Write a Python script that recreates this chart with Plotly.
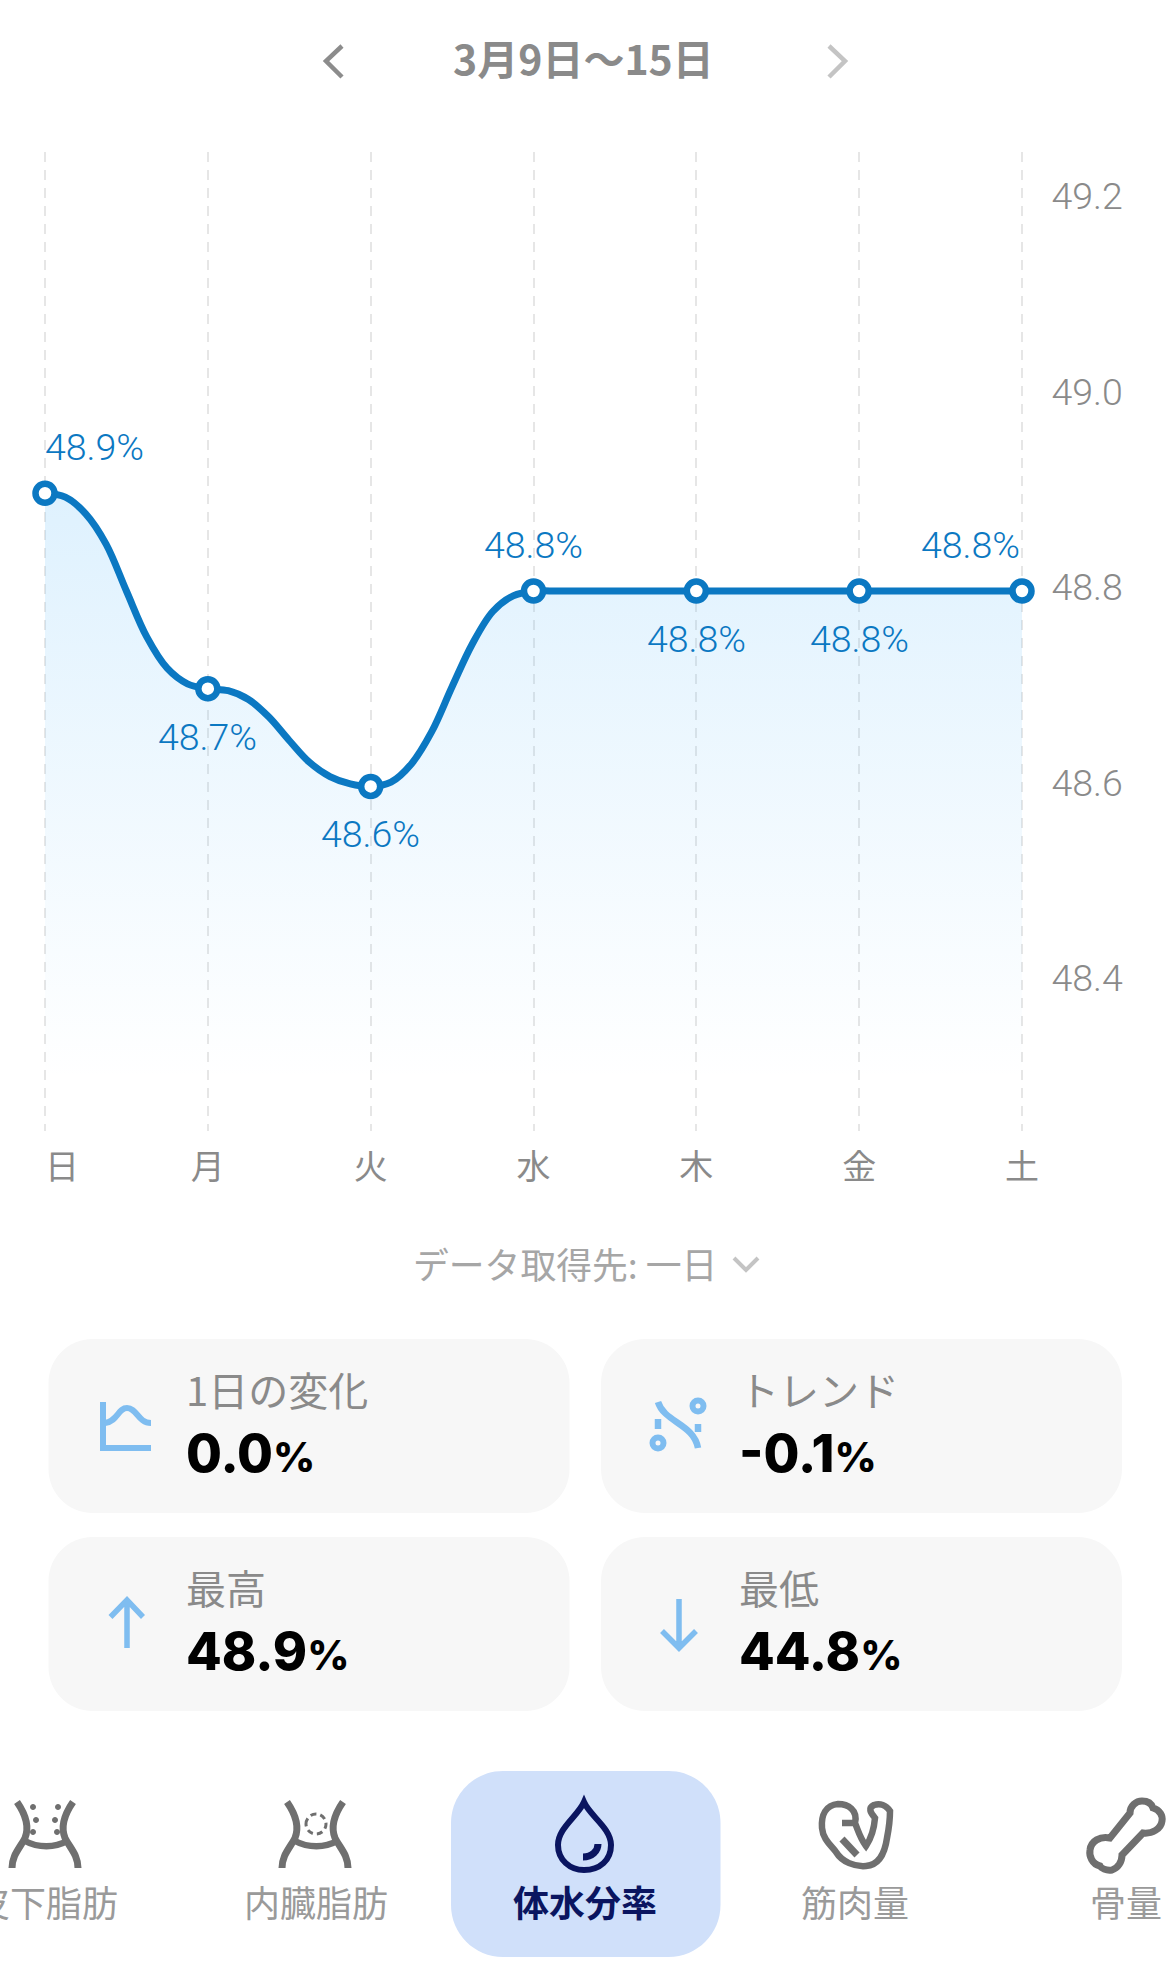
import plotly.graph_objects as go

# ---- chart data ----
days = ["日", "月", "火", "水", "木", "金", "土"]
day_pos = [0, 1, 2, 3, 4, 5, 6]
water_pct = [48.9, 48.7, 48.6, 48.8, 48.8, 48.8, 48.8]
day_tick_text = ["\u3000日", "月", "火", "水", "木", "金", "土"]
y_ticks = [49.2, 49.0, 48.8, 48.6, 48.4]
label_pos = ["above-right", "below", "below", "above", "below", "below", "above-left"]

# the drawn smooth line (weekday position, axis value)
line_pos = [0, .125, .25, .375, .5, .625, .75, .875, 1,
            1.125, 1.25, 1.375, 1.5, 1.625, 1.75, 1.875, 2,
            2.125, 2.25, 2.375, 2.5, 2.625, 2.75, 2.875, 3, 3.125, 4, 5, 6]
line_val = [48.900, 48.896, 48.879, 48.848, 48.800, 48.753, 48.721, 48.705, 48.700,
            48.698, 48.689, 48.671, 48.647, 48.6245, 48.610, 48.6025, 48.600,
            48.6044, 48.623, 48.656, 48.702, 48.746, 48.779, 48.795, 48.800, 48.800, 48.800, 48.800, 48.800]

title_text = "3月9日〜15日"
source_text = "データ取得先: 一日"
card_titles = ["1日の変化", "トレンド", "最高", "最低"]
card_values = ["0.0", "-0.1", "48.9", "44.8"]
tab_labels = ["皮下脂肪", "内臓脂肪", "体水分率", "筋肉量", "骨量"]

W, H = 1170, 1981
BLUE = "#0b78c2"
ICON = "#7fbdf0"
GREY = "#8a8a8a"
NAVY = "#0a1560"
CJK = "Noto Sans CJK JP"
NUM = "Roboto"

fig = go.Figure()

gradient = dict(type="vertical",
                colorscale=[[0, "rgba(100,190,250,0.21)"], [1, "rgba(100,190,250,0)"]],
                start=48.9, stop=48.3)
fig.add_trace(go.Scatter(
    x=line_pos, y=line_val, mode="lines", cliponaxis=False,
    line=dict(color=BLUE, width=7, shape="spline", smoothing=1),
    fill="tozeroy", fillgradient=gradient, hoverinfo="skip", showlegend=False))
fig.add_trace(go.Scatter(
    x=day_pos, y=water_pct, mode="markers", cliponaxis=False,
    marker=dict(size=19, color="#ffffff", line=dict(color=BLUE, width=6.5)),
    hoverinfo="skip", showlegend=False))
# empty trace that brings up the pixel overlay axes for the surrounding UI
fig.add_trace(go.Scatter(x=[], y=[], xaxis="x2", yaxis="y2", showlegend=False))

shapes, notes = [], []


def txt(x, y, s, size, color=GREY, family=CJK, anchor="center", weight=None):
    f = dict(size=size, color=color, family=family)
    if weight:
        f["weight"] = weight
    notes.append(dict(x=x, y=y, xref="x2", yref="y2", text=s, showarrow=False, xanchor=anchor,
                      yanchor="middle", font=f))


def stroke(path, color, width, fill=None, dash=None):
    shapes.append(dict(type="path", path=path, xref="x2", yref="y2", layer="below",
                       line=dict(color=color, width=width, **({"dash": dash} if dash else {})),
                       fillcolor=fill or "rgba(0,0,0,0)"))


def circle(cx, cy, r):
    k = 0.5523 * r
    return (f"M{cx-r},{cy} C{cx-r},{cy-k} {cx-k},{cy-r} {cx},{cy-r} C{cx+k},{cy-r} {cx+r},{cy-k} {cx+r},{cy} "
            f"C{cx+r},{cy+k} {cx+k},{cy+r} {cx},{cy+r} C{cx-k},{cy+r} {cx-r},{cy+k} {cx-r},{cy} Z")


def rrect(x0, y0, x1, y1, r):
    k = 0.4477 * r
    return (f"M{x0+r},{y0} L{x1-r},{y0} C{x1-k},{y0} {x1},{y0+k} {x1},{y0+r} L{x1},{y1-r} "
            f"C{x1},{y1-k} {x1-k},{y1} {x1-r},{y1} L{x0+r},{y1} C{x0+k},{y1} {x0},{y1-k} {x0},{y1-r} "
            f"L{x0},{y0+r} C{x0},{y0+k} {x0+k},{y0} {x0+r},{y0} Z")


# ---- header ----
txt(583, 56.5, f"<b>{title_text}</b>", 41)
stroke("M342,46 L326,61 L342,77", "#8c8c8c", 4.5)
stroke("M829,46 L845,61 L829,77", "#c4c4c4", 4.5)

# ---- data source row ----
txt(411, 1263, source_text, 35.8, color="#a6a6a6", anchor="left")
stroke("M734,1258 L746,1270 L758,1258", "#c4c4c4", 4)

# ---- cards ----
CARD = "#f7f7f7"
cards = [(48.5, 1339), (601, 1339), (48.5, 1537), (601, 1537)]
for (cx, cy), t, v in zip(cards, card_titles, card_values):
    shapes.append(dict(type="path", path=rrect(cx, cy, cx + 521, cy + 174, 44), xref="x2", yref="y2",
                       layer="below", line=dict(width=0), fillcolor=CARD))
    txt(cx + 135.5, cy + 49.5, t, 40, anchor="left")
    notes.append(dict(x=cx + 135.5, y=cy + 114, xref="x2", yref="y2", showarrow=False, xanchor="left",
                      yanchor="middle", text=f'{v}<span style="font-size:41px">%</span>',
                      font=dict(size=52, color="#000000", family="Inter", weight=800)))

stroke("M103,1402 L103,1448 L151,1448", ICON, 6)
stroke("M105,1423 C118,1421 118,1408 127,1408 C137,1408 138,1423 151,1423", ICON, 6)
stroke("M658,1402 C664,1422 694,1424 698,1448", ICON, 6.5)
stroke("M698,1424 L698,1432", ICON, 6.5)
stroke("M658,1419 L658,1429", ICON, 6.5)
stroke(circle(698, 1406, 5.5), ICON, 6, fill=CARD)
stroke(circle(658, 1443, 5.5), ICON, 6, fill=CARD)
stroke("M127,1648 L127,1600 M110.5,1617 L127,1600 L143,1617", ICON, 5.5)
stroke("M679,1599 L679,1648 M662,1631 L679,1648 L696,1631", ICON, 5.5)

# ---- bottom tabs ----
shapes.append(dict(type="path", path=rrect(451, 1771, 720.5, 1957, 52), xref="x2", yref="y2", layer="below",
                   line=dict(width=0), fillcolor="#d0e0fa"))
TAB = "#6f6f6f"
for off in (0, 270):
    stroke(f"M{17+off},1802 C{26+off},1815 {29+off},1828 {25+off},1838 C{20+off},1848 {12+off},1855 {12+off},1868",
           TAB, 7)
    stroke(f"M{73+off},1802 C{64+off},1815 {61+off},1828 {65+off},1838 C{70+off},1848 {78+off},1855 {78+off},1868",
           TAB, 7)
    stroke(f"M{25+off},1841 C{38+off},1848 {55+off},1848 {67+off},1841", TAB, 6.5)
for dx, dy in [(33, 1807), (58, 1807), (36, 1820), (55, 1820), (33, 1832), (57, 1832)]:
    shapes.append(dict(type="path", path=circle(dx, dy, 3), xref="x2", yref="y2", layer="below",
                       line=dict(width=0), fillcolor=TAB))
stroke(circle(316, 1824, 10), TAB, 3, dash="6px,4px")
stroke("M584,1802 C578,1816 558,1828 558,1845 C558,1860 570,1870 584,1870 C600,1870 611,1860 611,1845 "
       "C611,1828 590,1816 584,1802 Z", NAVY, 6)
stroke("M583,1857 C592,1857 598,1851 598,1844", NAVY, 7)
stroke("M842,1823 L855,1823 C858,1810 848,1804 838,1804 C826,1805 821,1815 822,1828 C823,1840 832,1846 836,1852 "
       "C842,1862 855,1867 866,1866 C880,1865 885,1852 887,1838 C889,1828 890,1818 890,1811 C886,1805 880,1803 874,1805 "
       "C868,1808 870,1812 875,1818 C874,1830 870,1840 866,1846 C860,1838 858,1830 855,1823", TAB, 6.5)
stroke("M842,1839 L857,1855", TAB, 7)
stroke("M1130,1813 C1130,1806 1136,1801 1142,1801 C1150,1801 1152,1805 1153,1808 C1160,1810 1163,1816 1162,1821 "
       "C1161,1829 1152,1834 1143,1833 L1122,1855 C1122,1862 1118,1868 1112,1870 C1106,1871 1101,1868 1100,1866 "
       "C1092,1864 1089,1856 1090,1850 C1091,1841 1100,1836 1110,1838 Z", TAB, 7)

txt(45.5, 1901, tab_labels[0], 36, color="#9a9a9a")
txt(315.5, 1901, tab_labels[1], 36, color="#9a9a9a")
txt(584.5, 1901, f"<b>{tab_labels[2]}</b>", 36, color=NAVY)
txt(855, 1901, tab_labels[3], 36, color="#9a9a9a")
txt(1126, 1901, tab_labels[4], 36, color="#9a9a9a")

# ---- value labels on the chart, anchored through its axes ----
for p, v, pos in zip(day_pos, water_pct, label_pos):
    up = pos.startswith("above")
    notes.append(dict(
        x=p, y=v, xref="x", yref="y", text=f"{v}%", showarrow=False,
        xanchor="left" if pos.endswith("right") else "right" if pos.endswith("left") else "center",
        xshift=-2 if pos.endswith("right") else 0,
        yanchor="middle", yshift=46 if up else -48,
        font=dict(size=37.5, color=BLUE, family=NUM, weight=300)))

fig.update_layout(
    width=W, height=H, margin=dict(l=0, r=0, t=0, b=0, autoexpand=False),
    paper_bgcolor="#ffffff", plot_bgcolor="rgba(0,0,0,0)", showlegend=False,
    shapes=shapes, annotations=notes,
    xaxis=dict(domain=[43.05 / W, 1023.95 / W], range=[-0.012, 6.012], tickmode="array",
               tickvals=day_pos, ticktext=day_tick_text,
               showgrid=True, gridcolor="#e6e6e6", gridwidth=2, griddash="10px,8px",
               zeroline=False, showline=False, ticks="outside", ticklen=6, tickcolor="rgba(0,0,0,0)",
               tickfont=dict(size=34, color=GREY, family=CJK), anchor="y", fixedrange=True),
    yaxis=dict(domain=[1 - 1131 / H, 1 - 152 / H], range=[48.2473, 49.2493], side="right",
               tickmode="array", tickvals=y_ticks, ticktext=[f"{t:.1f}" for t in y_ticks],
               showgrid=False, zeroline=False, showline=False, ticks="outside", ticklen=19,
               tickcolor="rgba(0,0,0,0)", ticklabelshift=-4,
               tickfont=dict(size=37.5, color=GREY, family=NUM, weight=300),
               anchor="x", fixedrange=True),
    xaxis2=dict(domain=[0, 1], range=[0, W], visible=False, anchor="y2", fixedrange=True),
    yaxis2=dict(domain=[0, 1], range=[H, 0], visible=False, anchor="x2", fixedrange=True),
)

fig.write_html("out.html", config=dict(displayModeBar=False),
               post_script="document.body.style.margin='0';document.body.style.overflow='hidden';")
